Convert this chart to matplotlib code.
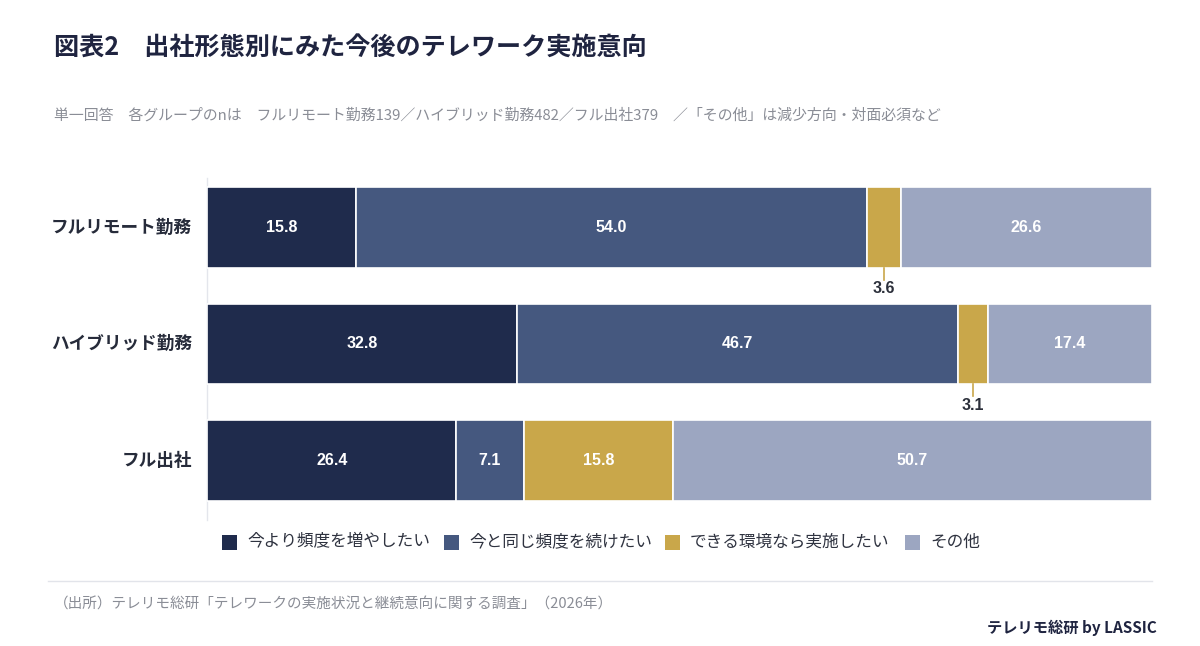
import matplotlib
matplotlib.use("Agg")
import matplotlib.pyplot as plt
from matplotlib.patches import Rectangle
from matplotlib.lines import Line2D

plt.rcParams['font.family'] = ['Noto Sans CJK JP', 'DejaVu Sans']

categories = ["フルリモート勤務", "ハイブリッド勤務", "フル出社"]
series_names = ["今より頻度を増やしたい", "今と同じ頻度を続けたい", "できる環境なら実施したい", "その他"]
values = {
    "今より頻度を増やしたい": [15.8, 32.8, 26.4],
    "今と同じ頻度を続けたい": [54.0, 46.7, 7.1],
    "できる環境なら実施したい": [3.6, 3.1, 15.8],
    "その他": [26.6, 17.4, 50.7],
}
colors = ["#1f2b4c", "#45587f", "#c9a74a", "#9ca6c1"]

W, H = 1200, 646
fig = plt.figure(figsize=(W / 100, H / 100), dpi=100)
fig.patch.set_facecolor("white")

def fx(px):
    return px / W

def fy(py):
    return 1 - py / H

ax_left, ax_right = 207, 1152
ax_top, ax_bottom = 169.25, 518.75
ax = fig.add_axes([fx(ax_left), fy(ax_bottom), fx(ax_right - ax_left), (ax_bottom - ax_top) / H])
ax.set_xlim(0, 100)
ax.set_ylim(2.5, -0.5)
ax.axis("off")

bar_h = 0.695
left = [0.0] * len(categories)
for si, name in enumerate(series_names):
    vals = values[name]
    ax.barh(range(len(categories)), vals, left=left, height=bar_h, color=colors[si],
            edgecolor="white", linewidth=1.2, zorder=2)
    for ci, v in enumerate(vals):
        cx = left[ci] + v / 2
        if v >= 5:
            ax.text(cx, ci, f"{v:.1f}", ha="center", va="center", color="white",
                    fontsize=11.5, fontweight="bold", family=["Liberation Sans", "DejaVu Sans"], zorder=3)
        else:
            y0 = ci + bar_h / 2
            ax.plot([cx, cx], [y0, y0 + 0.1], color=colors[si], lw=1.2, zorder=3, clip_on=False)
            ax.text(cx, y0 + 0.18, f"{v:.1f}", ha="center", va="center", color="#2b2f3a",
                    fontsize=11.5, fontweight="bold", family=["Liberation Sans", "DejaVu Sans"], zorder=3,
                    clip_on=False)
    left = [l + v for l, v in zip(left, vals)]

# thin axis line
fig.add_artist(Line2D([fx(207), fx(207)], [fy(178), fy(520)], color="#e4e6ec", lw=1.0, zorder=0))

# category labels
for ci, cat in enumerate(categories):
    ax.text(-1.6, ci, cat, ha="right", va="center", fontsize=12.7, fontweight="bold", color="#262b3a")

# title and subtitle
fig.text(fx(54), fy(47), "図表2　出社形態別にみた今後のテレワーク実施意向", ha="left", va="center",
         fontsize=18.1, fontweight="bold", color="#1f2440")
fig.text(fx(54), fy(115), "単一回答　各グループのnは　フルリモート勤務139／ハイブリッド勤務482／フル出社379　／「その他」は減少方向・対面必須など",
         ha="left", va="center", fontsize=10.75, color="#8a8d96")

# legend
leg_x = [222, 444, 665, 905]
for si, name in enumerate(series_names):
    fig.patches.append(Rectangle((fx(leg_x[si]), fy(550)), 15 / W, 15 / H, transform=fig.transFigure,
                                 facecolor=colors[si], edgecolor="none"))
    fig.text(fx(leg_x[si] + 25), fy(542), name, ha="left", va="center", fontsize=12, color="#2f3340")

# footer
fig.add_artist(Line2D([fx(48), fx(1152)], [fy(581), fy(581)], color="#e2e4ea", lw=1.0))
fig.text(fx(54), fy(605), "（出所）テレリモ総研「テレワークの実施状況と継続意向に関する調査」（2026年）",
         ha="left", va="center", fontsize=10.5, color="#8a8d96")
fig.text(fx(1157), fy(628), "テレリモ総研 by LASSIC", ha="right", va="center", fontsize=11,
         fontweight="bold", color="#1f2440")

fig.savefig("out.png", dpi=100, facecolor="white")
